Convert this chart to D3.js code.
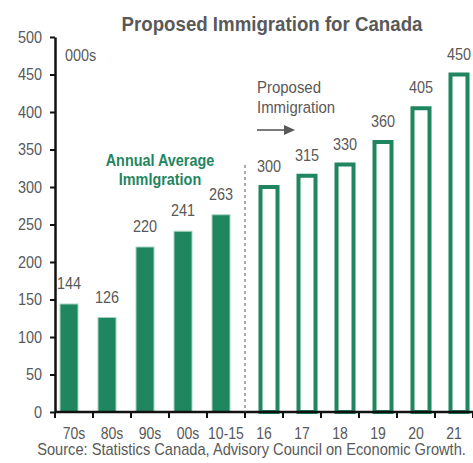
<!DOCTYPE html>
<html><head><meta charset="utf-8">
<script src="https://cdn.jsdelivr.net/npm/d3@7"></script>
<style>body{margin:0;background:#fff}svg{display:block}text{font-family:"Liberation Sans",Arial,sans-serif}</style>
</head><body><svg id="c" width="473" height="463"></svg>
<script>
const categories = ["70s","80s","90s","00s","10-15","16","17","18","19","20","21"];
const values = [144,126,220,241,263,300,315,330,360,405,450];
const kind = ["hist","hist","hist","hist","hist","prop","prop","prop","prop","prop","prop"];
const yTicks = [0,50,100,150,200,250,300,350,400,450,500];

const svg = d3.select("#c");
const W = 473, H = 463;
const margin = {left:55, right:0, top:37, bottom:51};
const x0 = d3.scaleBand().domain(categories).range([margin.left, W - margin.right]).padding(0);
const x1 = d3.scaleBand().domain(["hist","prop"]).range([9, 29]);
const y = d3.scaleLinear().domain([0,500]).range([H - margin.bottom, margin.top]);
const green = "#1f8660", gray = "#595959";
const SX = 0.85;

function ntext(g, x, y, s, size, str) {
  return g.append("text").attr("transform",`translate(${x},${y}) scale(${s},1)`)
    .attr("font-size",size).attr("fill",gray).text(str);
}

ntext(svg, 272, 31, 0.89, 21, "Proposed Immigration for Canada")
  .attr("text-anchor","middle").attr("font-weight","bold");

// y axis
const ya = svg.append("g").attr("transform",`translate(${margin.left},0)`)
  .call(d3.axisLeft(y).tickValues(yTicks).tickSize(5).tickSizeOuter(0));
ya.select(".domain").attr("stroke","#111").attr("stroke-width",2.5);
ya.selectAll(".tick line").attr("stroke","#111").attr("stroke-width",2);
ya.selectAll(".tick text").attr("x",null).attr("transform",`translate(-13,0) scale(${SX},1)`)
  .attr("font-size",17).attr("fill",gray).style("font-family","'Liberation Sans',Arial,sans-serif");

// bars
const data = categories.map((c,i)=>({c,v:values[i],k:kind[i]}));
const cx = d => x0(d.c) + x1(d.k) + x1.bandwidth()/2;
const hw = 18;
svg.selectAll("rect.h").data(data.filter(d=>d.k==="hist")).join("rect")
  .attr("x",d=>cx(d)-hw/2).attr("width",hw)
  .attr("y",d=>y(d.v)).attr("height",d=>y(0)-y(d.v))
  .attr("fill",green).attr("stroke","#a6d3bf").attr("stroke-width",1);
const pw = 17, sw = 4;
svg.selectAll("rect.p").data(data.filter(d=>d.k==="prop")).join("rect")
  .attr("x",d=>cx(d)-pw/2).attr("width",pw)
  .attr("y",d=>y(d.v)).attr("height",d=>y(0)-y(d.v))
  .attr("fill","#fff").attr("stroke",green).attr("stroke-width",sw);

// value labels
data.forEach(d => ntext(svg, cx(d), y(d.v)-15, SX, 17, d.v).attr("text-anchor","middle"));

// x axis
const xa = svg.append("g").attr("transform",`translate(0,${y(0)})`);
xa.append("line").attr("x1",margin.left).attr("x2",W).attr("stroke","#111").attr("stroke-width",2.5);
const bounds = categories.map(c=>x0(c)).concat([x0(categories[categories.length-1])+x0.step()]);
xa.selectAll("line.t").data(bounds).join("line").attr("x1",d=>d).attr("x2",d=>d)
  .attr("y1",0).attr("y2",6).attr("stroke","#111").attr("stroke-width",2);
categories.forEach(c => ntext(xa, x0(c)+x0.step()/2, 27, SX, 16.5, c).attr("text-anchor","middle"));

// dashed divider
const divX = x0("16");
svg.append("line").attr("x1",divX).attr("x2",divX).attr("y1",165).attr("y2",y(0))
  .attr("stroke","#555").attr("stroke-width",1).attr("stroke-dasharray","3,3");

ntext(svg, 65, 61, SX, 17, "000s");

const ann = svg.append("text").attr("transform","translate(160,0) scale(0.9,1)")
  .attr("font-size",16).attr("font-weight","bold").attr("fill",green).attr("text-anchor","middle");
ann.append("tspan").attr("x",0).attr("y",166).text("Annual Average");
ann.append("tspan").attr("x",0).attr("y",185).text("Immlgration");

const pr = svg.append("text").attr("transform","translate(257,0) scale(0.88,1)").attr("font-size",17).attr("fill",gray);
pr.append("tspan").attr("x",0).attr("y",93).text("Proposed");
pr.append("tspan").attr("x",0).attr("y",113).text("Immigration");
svg.append("line").attr("x1",257).attr("x2",287).attr("y1",130).attr("y2",130).attr("stroke",gray).attr("stroke-width",1.6);
svg.append("path").attr("d","M284,125 L295,130 L284,135 Z").attr("fill",gray);

const src = svg.append("text").attr("font-size",16).attr("fill",gray).attr("text-anchor","middle")
  .text("Source: Statistics Canada, Advisory Council on Economic Growth.");
const len = src.node().getComputedTextLength();
src.attr("transform",`translate(251.5,455) scale(${429/len},1)`);
</script></body></html>
